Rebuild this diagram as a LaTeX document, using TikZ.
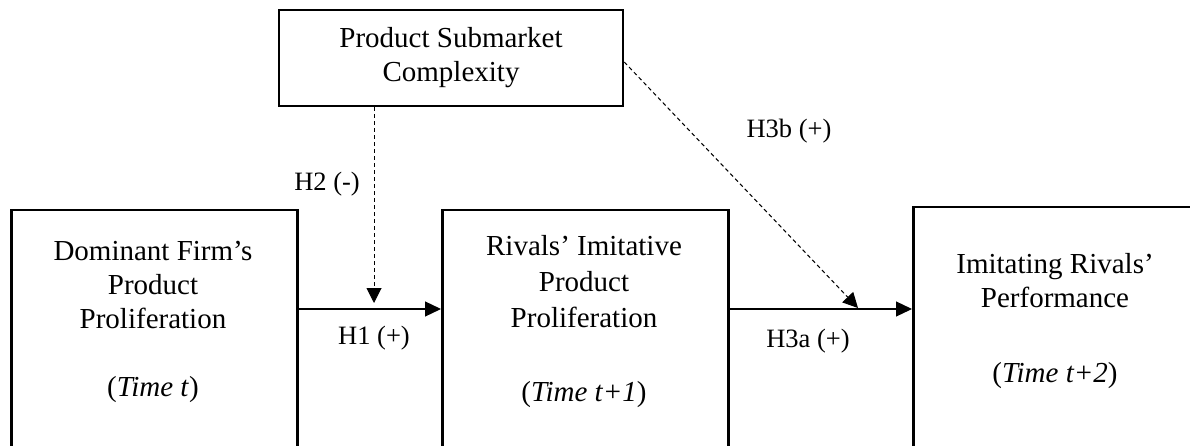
\documentclass[tikz,border=0pt]{standalone}
\usepackage{fontspec}
\setmainfont{Liberation Serif}
\usetikzlibrary{arrows.meta}
\begin{document}
\begin{tikzpicture}[x=1pt,y=-1pt,
  box/.style={draw, line width=2.5pt, rectangle, inner sep=0pt, anchor=north west, minimum width=286pt, minimum height=300pt},
  boxtext/.style={align=center, inner sep=0pt, anchor=north, font=\fontsize{29}{34}\selectfont},
  lbl/.style={inner sep=0pt, anchor=base, font=\fontsize{26.5}{30}\selectfont},
  link/.style={line width=1.2pt, -{Triangle[length=16pt,width=15pt]}},
  dlink/.style={line width=1pt, dash pattern=on 4pt off 3pt, -{Triangle[length=15pt,width=15pt]}}
]
\useasboundingbox (0,0) rectangle (1190,446);
\node[box] (L) at (10,209) {};
\node[box] (M) at (441,209) {};
\node[box] (R) at (912,206) {};
\node[draw, line width=2.5pt, inner sep=0pt, minimum width=344pt, minimum height=96pt, align=center, font=\fontsize{29}{34}\selectfont] (T) at (451,58) {Product Submarket\\Complexity};

\node[boxtext] (Lt) at (153,241) {Dominant Firm’s\\Product\\Proliferation\\[34pt](\textit{Time t})};
\node[boxtext, font=\fontsize{29}{36}\selectfont] (Mt) at (584,235) {Rivals’ Imitative\\Product\\Proliferation\\[38pt](\textit{Time t+1})};
\node[boxtext] (Rt) at (1055,253) {Imitating Rivals’\\Performance\\[41pt](\textit{Time t+2})};

\draw[link] ([yshift=-100pt]L.north east) -- ([yshift=-100pt]M.north west);
\draw[link] ([yshift=-100pt]M.north east) -- ([yshift=-103pt]R.north west);

\coordinate (h2tip) at (374,303);
\draw[dlink] (T.south -| h2tip) -- (h2tip);
\coordinate (h3tip) at (858,308);
\draw[dlink] ([yshift=-4pt]T.east) -- (h3tip);

\node[lbl] (H1) at (374,344) {H1 (+)};
\node[lbl] (H2) at (327,191) {H2 (-)};
\node[lbl] (H3a) at (808,347) {H3a (+)};
\node[lbl] (H3b) at (789,138) {H3b (+)};
\end{tikzpicture}
\end{document}
